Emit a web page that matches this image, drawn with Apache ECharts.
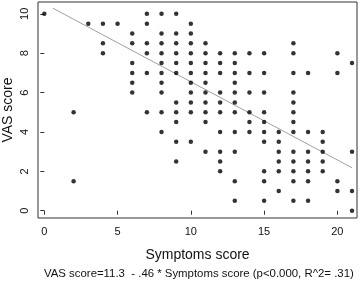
<!DOCTYPE html>
<html>
<head>
<meta charset="utf-8">
<script src="https://cdn.jsdelivr.net/npm/echarts@6/dist/echarts.min.js"></script>
<style>
  html, body { margin: 0; padding: 0; background: #fff; }
  #chart { width: 360px; height: 283px; }
</style>
</head>
<body>
<div id="chart"></div>
<script>
// symptoms score (x) -> VAS scores (y)
var symptoms = [0, 2, 3, 4, 5, 6, 7, 8, 9, 10, 11, 12, 13, 14, 15, 16, 17, 18, 19, 20, 21];
var vasByScore = [
  [10],
  [5, 1.5],
  [9.5],
  [9.5, 8.5, 8],
  [9.5],
  [9, 8.5, 7.5, 7, 6.5, 6],
  [10, 9.5, 8.5, 8, 7, 5],
  [10, 9, 8.5, 8, 7.5, 7, 6.5, 6, 5, 4],
  [10, 9, 8.5, 8, 7.5, 7, 5.5, 5, 4.5, 3.5, 2.5],
  [9.5, 9, 8.5, 8, 7.5, 7, 6.5, 6, 5.5, 5, 3.5],
  [8.5, 8, 7.5, 7, 6.5, 6, 5.5, 5, 4.5, 3],
  [8, 7.5, 7, 6, 5.5, 5, 4, 3, 2.5, 2],
  [8, 7.5, 7, 6.5, 6, 5.5, 5, 4, 3, 1.5, 0.5],
  [8, 7, 6, 5, 4.5, 4],
  [8, 7, 6, 5, 4.5, 4, 3.5, 2, 1.5, 0.5],
  [4, 3.5, 3, 2.5, 2, 1],
  [8.5, 8, 7, 6, 5.5, 5, 4.5, 4, 3, 2.5, 2, 1.5, 0.5],
  [7, 4, 3, 2.5, 2, 1.5, 0.5],
  [4, 3.5, 3, 2.5, 2],
  [8, 7, 1.5, 1],
  [7.5, 3, 1, 0]
];
// fitted line as drawn
var fitX = [0.6, 21];
var fitY = [10.28, 2.18];

var xTicks = [0, 5, 10, 15, 20];
var yTicks = [0, 2, 4, 6, 8, 10];
var caption = "VAS score=11.3  - .46 * Symptoms score (p<0.000, R^2= .31)";

var points = [];
symptoms.forEach(function (s, i) {
  vasByScore[i].forEach(function (v) {
    points.push([s, v]);
  });
});
var fitLine = fitX.map(function (x, i) { return [x, fitY[i]]; });

var font = "Liberation Sans";
var myChart = echarts.init(document.getElementById("chart"));
var option = {
  animation: false,
  textStyle: { fontFamily: font },
  grid: {
    left: 38, top: 2, width: 319, height: 216,
    outerBoundsMode: "none",
    containLabel: false,
    show: true, borderColor: "#333", borderWidth: 1, backgroundColor: "#fff"
  },
  xAxis: {
    type: "value",
    min: -0.43, max: 21.34,
    splitLine: { show: false },
    axisLine: { show: false },
    axisTick: { show: true, customValues: xTicks, length: 4, inside: false, lineStyle: { color: "#333" } },
    axisLabel: { customValues: xTicks, color: "#111", fontSize: 11, margin: 8, fontFamily: font },
    name: "Symptoms score",
    nameLocation: "middle",
    nameGap: 30,
    nameTextStyle: { color: "#111", fontSize: 14, fontFamily: font }
  },
  yAxis: {
    type: "value",
    min: -0.37, max: 10.6,
    splitLine: { show: false },
    axisLine: { show: false },
    axisTick: { show: true, customValues: yTicks, length: 4, inside: false, lineStyle: { color: "#333" } },
    axisLabel: { customValues: yTicks, color: "#111", fontSize: 11, margin: 8, rotate: 90, fontFamily: font },
    name: "VAS score",
    nameLocation: "middle",
    nameGap: 23,
    nameMoveOverlap: false,
    nameRotate: 90,
    nameTextStyle: { color: "#111", fontSize: 14, fontFamily: font }
  },
  graphic: [{
    type: "text",
    left: 44, top: 268,
    style: { text: caption, fill: "#111", font: "11.4px " + font }
  }],
  series: [
    {
      name: "fit",
      type: "line",
      data: fitLine,
      showSymbol: false,
      lineStyle: { color: "#a0a0a0", width: 1 },
      z: 1
    },
    {
      name: "VAS",
      type: "scatter",
      data: points,
      symbolSize: 4.5,
      itemStyle: { color: "#000" },
      z: 2
    }
  ]
};
myChart.setOption(option);
</script>
</body>
</html>
